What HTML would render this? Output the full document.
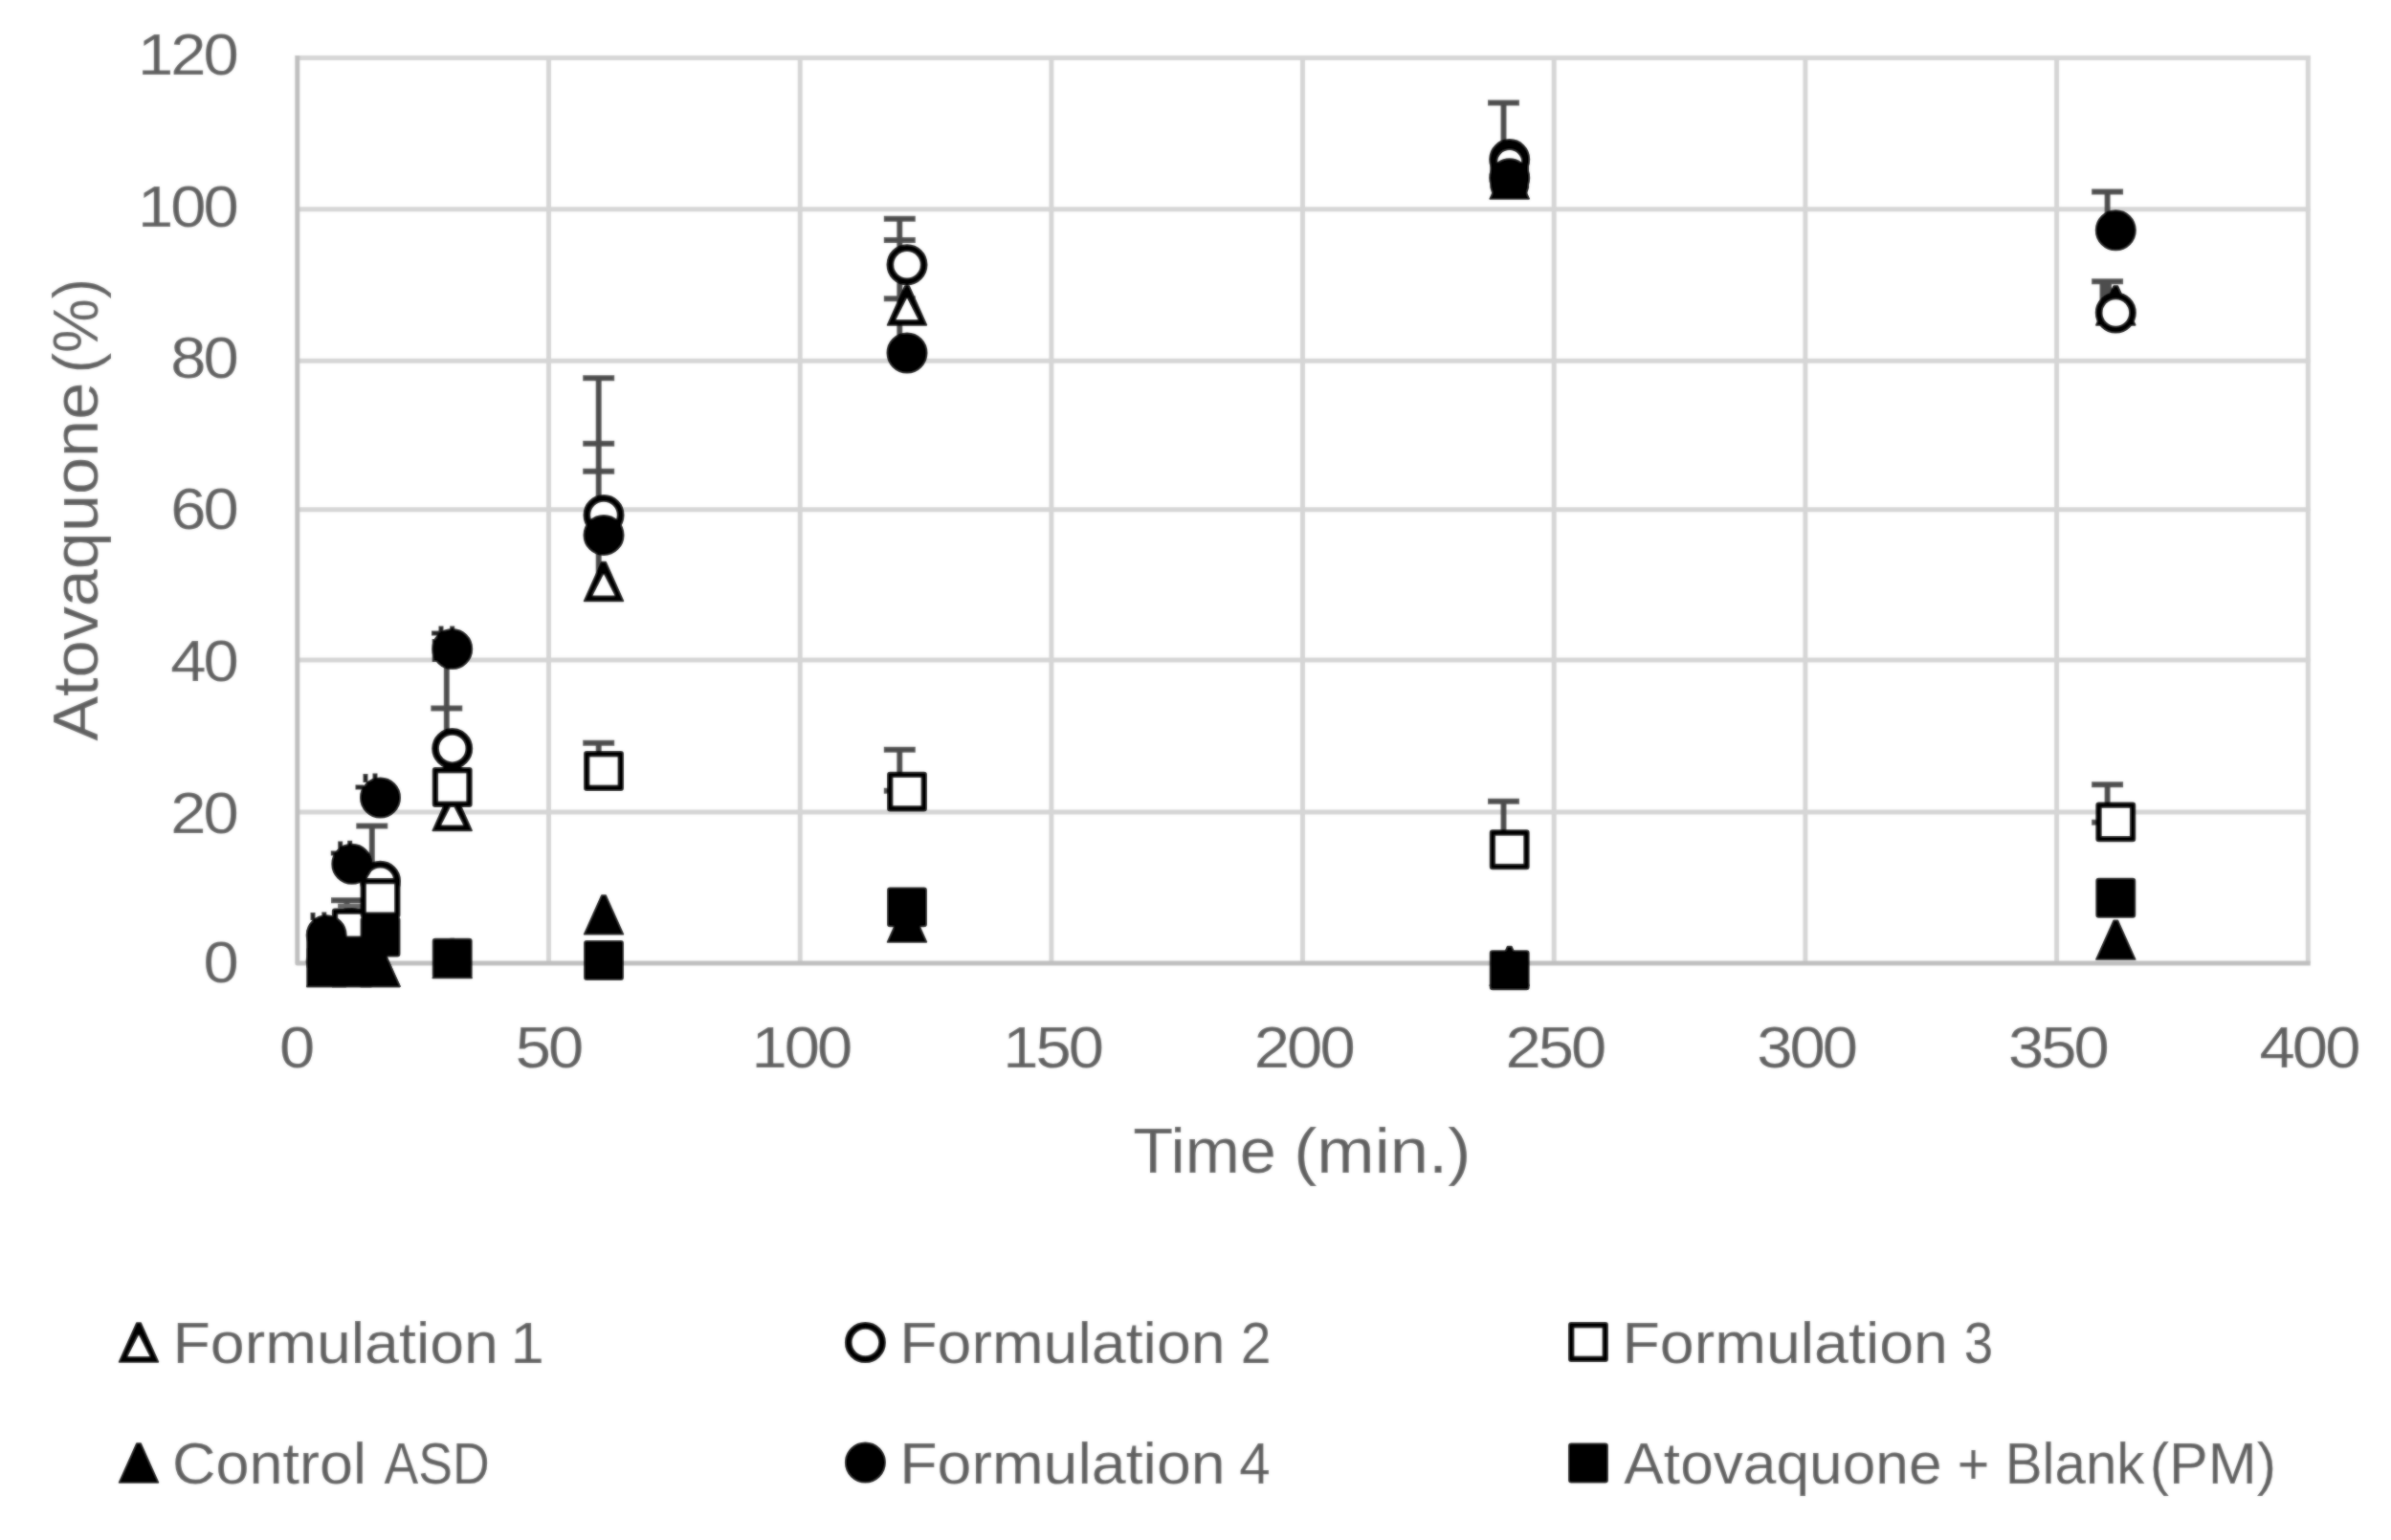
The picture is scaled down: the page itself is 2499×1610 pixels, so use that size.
<!DOCTYPE html>
<html lang="en"><head><meta charset="utf-8"><title>Atovaquone release chart</title>
<style>html,body{margin:0;padding:0;background:#fff}body{width:2499px;height:1610px;overflow:hidden}svg{display:block}text{font-family:"Liberation Sans",sans-serif;fill:#616161}</style>
</head><body>
<svg width="2499" height="1610" viewBox="0 0 2499 1610">
<defs><filter id="soft" x="0" y="0" width="2499" height="1610" filterUnits="userSpaceOnUse"><feGaussianBlur stdDeviation="1"/></filter></defs>
<g id="chart">
<rect width="2499" height="1610" fill="#fff"/>
<g stroke="#d6d6d6" stroke-width="5" fill="none">
<line x1="310.8" y1="849.0" x2="2414.8" y2="849.0"/>
<line x1="310.8" y1="689.9" x2="2414.8" y2="689.9"/>
<line x1="310.8" y1="532.7" x2="2414.8" y2="532.7"/>
<line x1="310.8" y1="377.3" x2="2414.8" y2="377.3"/>
<line x1="310.8" y1="218.8" x2="2414.8" y2="218.8"/>
<line x1="310.8" y1="60.6" x2="2414.8" y2="60.6"/>
<line x1="573.5" y1="58.1" x2="573.5" y2="1007.0"/>
<line x1="836.2" y1="58.1" x2="836.2" y2="1007.0"/>
<line x1="1098.9" y1="58.1" x2="1098.9" y2="1007.0"/>
<line x1="1361.5" y1="58.1" x2="1361.5" y2="1007.0"/>
<line x1="1624.2" y1="58.1" x2="1624.2" y2="1007.0"/>
<line x1="1886.9" y1="58.1" x2="1886.9" y2="1007.0"/>
<line x1="2149.6" y1="58.1" x2="2149.6" y2="1007.0"/>
<line x1="2412.3" y1="58.1" x2="2412.3" y2="1007.0"/>
</g>
<path d="M310.8 58.1 V1007.0 H2414.8" stroke="#bfbfbf" stroke-width="5" fill="none" stroke-linejoin="round"/>
<text transform="translate(212.53 1026.8) scale(1.08 1)" x="0.00" font-size="62">0</text>
<text transform="translate(178.23 870.5) scale(1.08 1)" x="0.00 31.76" font-size="62">20</text>
<text transform="translate(178.23 711.8) scale(1.08 1)" x="0.00 31.76" font-size="62">40</text>
<text transform="translate(178.23 553.4) scale(1.08 1)" x="0.00 31.76" font-size="62">60</text>
<text transform="translate(178.23 395.2) scale(1.08 1)" x="0.00 31.76" font-size="62">80</text>
<text transform="translate(143.93 236.5) scale(1.08 1)" x="0.00 31.76 63.52" font-size="62">100</text>
<text transform="translate(143.93 78.2) scale(1.08 1)" x="0.00 31.76 63.52" font-size="62">120</text>
<text transform="translate(292.03 1115.6) scale(1.08 1)" x="0.00" font-size="62">0</text>
<text transform="translate(538.72 1115.6) scale(1.08 1)" x="0.00 31.76" font-size="62">50</text>
<text transform="translate(785.45 1115.6) scale(1.08 1)" x="0.00 31.76 63.52" font-size="62">100</text>
<text transform="translate(1048.14 1115.6) scale(1.08 1)" x="0.00 31.76 63.52" font-size="62">150</text>
<text transform="translate(1310.83 1115.6) scale(1.08 1)" x="0.00 31.76 63.52" font-size="62">200</text>
<text transform="translate(1573.52 1115.6) scale(1.08 1)" x="0.00 31.76 63.52" font-size="62">250</text>
<text transform="translate(1836.20 1115.6) scale(1.08 1)" x="0.00 31.76 63.52" font-size="62">300</text>
<text transform="translate(2098.89 1115.6) scale(1.08 1)" x="0.00 31.76 63.52" font-size="62">350</text>
<text transform="translate(2361.58 1115.6) scale(1.08 1)" x="0.00 31.76 63.52" font-size="62">400</text>
<text transform="translate(1184.16 1226.2) scale(1.0230 1)" font-size="67">Time</text>
<text transform="translate(1352.17 1226.2) scale(1.0817 1)" font-size="67">(min.)</text>
<text transform="translate(102.2 774.78) rotate(-90) scale(1.0488 1)" font-size="67">Atovaquone</text>
<text transform="translate(102.2 390.30) rotate(-90) scale(0.9544 1)" font-size="67">(%)</text>
<g stroke="#4d4d4d" stroke-width="6" fill="none">
<line x1="625.7" y1="395.3" x2="625.7" y2="608.0"/><line x1="609.2" y1="395.3" x2="642.2" y2="395.3"/><line x1="609.2" y1="463.8" x2="642.2" y2="463.8"/><line x1="609.2" y1="492.7" x2="642.2" y2="492.7"/>
<line x1="625.7" y1="776.8" x2="625.7" y2="806.0"/><line x1="609.2" y1="776.8" x2="642.2" y2="776.8"/>
<line x1="466.8" y1="664.0" x2="466.8" y2="848.0"/><line x1="450.3" y1="740.5" x2="483.3" y2="740.5"/>
<line x1="388.8" y1="863.4" x2="388.8" y2="920.0"/><line x1="372.3" y1="863.4" x2="405.3" y2="863.4"/>
<line x1="362.5" y1="941.2" x2="362.5" y2="972.0"/><line x1="346.0" y1="941.2" x2="379.0" y2="941.2"/>
<line x1="353" y1="947" x2="378" y2="947" stroke="#6a6a6a" stroke-width="4.5"/>
<line x1="940.3" y1="228.7" x2="940.3" y2="369.0"/><line x1="923.8" y1="228.7" x2="956.8" y2="228.7"/><line x1="923.8" y1="251.0" x2="956.8" y2="251.0"/><line x1="923.8" y1="312.3" x2="956.8" y2="312.3"/>
<line x1="940.3" y1="783.8" x2="940.3" y2="827.0"/><line x1="923.8" y1="783.8" x2="956.8" y2="783.8"/><line x1="923.8" y1="826.7" x2="956.8" y2="826.7"/>
<line x1="1571.5" y1="107.5" x2="1571.5" y2="187.0"/><line x1="1555.0" y1="107.5" x2="1588.0" y2="107.5"/>
<line x1="1571.5" y1="837.8" x2="1571.5" y2="888.0"/><line x1="1555.0" y1="837.8" x2="1588.0" y2="837.8"/>
<line x1="2202.6" y1="200.6" x2="2202.6" y2="240.0"/><line x1="2186.1" y1="200.6" x2="2219.1" y2="200.6"/>
<line x1="2202.6" y1="294.2" x2="2202.6" y2="327.0"/><line x1="2186.1" y1="294.2" x2="2219.1" y2="294.2"/>
<rect x="2194.5" y="294" width="12.5" height="28" fill="#4d4d4d" stroke="none"/>
<line x1="2202.6" y1="820.3" x2="2202.6" y2="859.5"/><line x1="2186.1" y1="820.3" x2="2219.1" y2="820.3"/><line x1="2186.1" y1="859.7" x2="2219.1" y2="859.7"/>
</g>
<g stroke="#1c1c1c" stroke-width="5" fill="none">
<line x1="451.0" y1="662.0" x2="460.0" y2="662.0"/>
<line x1="461.0" y1="654.5" x2="461.0" y2="668.0"/>
<line x1="472.7" y1="654.5" x2="472.7" y2="664.0"/>
<line x1="454.2" y1="668.0" x2="454.2" y2="692.0"/>
<line x1="371.5" y1="823.0" x2="380.0" y2="823.0"/>
<line x1="382.0" y1="809.0" x2="382.0" y2="818.0"/>
<line x1="392.0" y1="808.5" x2="392.0" y2="816.0"/>
<line x1="345.8" y1="892.0" x2="353.0" y2="892.0"/>
<line x1="355.7" y1="879.5" x2="355.7" y2="890.0"/>
<line x1="365.7" y1="878.8" x2="365.7" y2="886.0"/>
<line x1="327.0" y1="954.0" x2="327.0" y2="962.0"/>
<line x1="338.8" y1="953.5" x2="338.8" y2="960.0"/>
</g>
<g fill="#000" stroke="#000" stroke-width="1.5" stroke-linejoin="round">
<g><path d="M339.0 990.6H343.4L361.7 1031.4H320.7Z"/><path d="M341.2 1003.2L352.6 1025.4L329.8 1025.4Z" fill="#fff" stroke="none"/><path d="M365.6 990.6H370.0L388.3 1031.4H347.3Z"/><path d="M367.8 1003.2L379.2 1025.4L356.4 1025.4Z" fill="#fff" stroke="none"/><path d="M395.3 990.6H399.7L418.0 1031.4H377.0Z"/><path d="M397.5 1003.2L408.9 1025.4L386.1 1025.4Z" fill="#fff" stroke="none"/><path d="M470.5 827.6H474.9L493.2 868.4H452.2Z"/><path d="M472.7 840.2L484.1 862.4L461.3 862.4Z" fill="#fff" stroke="none"/><path d="M628.8 587.6H633.2L651.5 628.4H610.5Z"/><path d="M631.0 600.2L642.4 622.4L619.6 622.4Z" fill="#fff" stroke="none"/><path d="M945.8 299.1H950.2L968.5 339.9H927.5Z"/><path d="M948.0 311.7L959.4 333.9L936.6 333.9Z" fill="#fff" stroke="none"/><path d="M1575.5 167.1H1579.9L1598.2 207.9H1557.2Z"/><path d="M1577.7 179.7L1589.1 201.9L1566.3 201.9Z" fill="#fff" stroke="none"/><path d="M2209.1 299.1H2213.5L2231.8 339.9H2190.8Z"/><path d="M2211.3 311.7L2222.7 333.9L2199.9 333.9Z" fill="#fff" stroke="none"/></g>
<g><circle cx="341.2" cy="1005.0" r="20.75"/><circle cx="341.2" cy="1005.0" r="13.8" fill="#fff" stroke="none"/><circle cx="367.8" cy="970.5" r="20.75"/><circle cx="367.8" cy="970.5" r="13.8" fill="#fff" stroke="none"/><circle cx="397.5" cy="921.3" r="20.75"/><circle cx="397.5" cy="921.3" r="13.8" fill="#fff" stroke="none"/><circle cx="472.7" cy="782.6" r="20.75"/><circle cx="472.7" cy="782.6" r="13.8" fill="#fff" stroke="none"/><circle cx="631.0" cy="538.5" r="20.75"/><circle cx="631.0" cy="538.5" r="13.8" fill="#fff" stroke="none"/><circle cx="948.0" cy="276.8" r="20.75"/><circle cx="948.0" cy="276.8" r="13.8" fill="#fff" stroke="none"/><circle cx="1577.7" cy="166.6" r="20.75"/><circle cx="1577.7" cy="166.6" r="13.8" fill="#fff" stroke="none"/><circle cx="2211.3" cy="327.0" r="20.75"/><circle cx="2211.3" cy="327.0" r="13.8" fill="#fff" stroke="none"/></g>
<g><rect x="321.0" y="971.8" width="40.4" height="40.4" rx="2.5"/><rect x="326.6" y="977.4" width="29.2" height="29.2" fill="#fff" stroke="none"/><rect x="347.6" y="950.3" width="40.4" height="40.4" rx="2.5"/><rect x="353.2" y="955.9" width="29.2" height="29.2" fill="#fff" stroke="none"/><rect x="377.3" y="918.7" width="40.4" height="40.4" rx="2.5"/><rect x="382.9" y="924.3" width="29.2" height="29.2" fill="#fff" stroke="none"/><rect x="452.5" y="802.8" width="40.4" height="40.4" rx="2.5"/><rect x="458.1" y="808.4" width="29.2" height="29.2" fill="#fff" stroke="none"/><rect x="610.8" y="785.8" width="40.4" height="40.4" rx="2.5"/><rect x="616.4" y="791.4" width="29.2" height="29.2" fill="#fff" stroke="none"/><rect x="927.8" y="807.4" width="40.4" height="40.4" rx="2.5"/><rect x="933.4" y="813.0" width="29.2" height="29.2" fill="#fff" stroke="none"/><rect x="1557.5" y="868.1" width="40.4" height="40.4" rx="2.5"/><rect x="1563.1" y="873.7" width="29.2" height="29.2" fill="#fff" stroke="none"/><rect x="2191.1" y="839.2" width="40.4" height="40.4" rx="2.5"/><rect x="2196.7" y="844.8" width="29.2" height="29.2" fill="#fff" stroke="none"/></g>
<g><path d="M339.0 990.6H343.4L361.7 1031.4H320.7Z"/><path d="M365.6 990.6H370.0L388.3 1031.4H347.3Z"/><path d="M395.3 990.6H399.7L418.0 1031.4H377.0Z"/><path d="M470.5 981.6H474.9L493.2 1022.4H452.2Z"/><path d="M628.8 936.0H633.2L651.5 976.8H610.5Z"/><path d="M945.8 944.1H950.2L968.5 984.9H927.5Z"/><path d="M1575.5 989.6H1579.9L1598.2 1030.4H1557.2Z"/><path d="M2209.1 962.2H2213.5L2231.8 1003.0H2190.8Z"/></g>
<g><circle cx="341.2" cy="977.7" r="20.75"/><circle cx="367.8" cy="903.2" r="20.75"/><circle cx="397.5" cy="834.0" r="20.75"/><circle cx="472.7" cy="678.5" r="20.75"/><circle cx="631.0" cy="559.4" r="20.75"/><circle cx="948.0" cy="369.0" r="20.75"/><circle cx="1577.7" cy="186.0" r="20.75"/><circle cx="2211.3" cy="240.7" r="20.75"/></g>
<g><rect x="321.0" y="990.8" width="40.4" height="40.4" rx="2.5"/><rect x="347.6" y="979.3" width="40.4" height="40.4" rx="2.5"/><rect x="377.3" y="959.3" width="40.4" height="40.4" rx="2.5"/><rect x="452.5" y="981.6" width="40.4" height="40.4" rx="2.5"/><rect x="610.8" y="983.8" width="40.4" height="40.4" rx="2.5"/><rect x="927.8" y="928.2" width="40.4" height="40.4" rx="2.5"/><rect x="1557.5" y="994.1" width="40.4" height="40.4" rx="2.5"/><rect x="2191.1" y="918.6" width="40.4" height="40.4" rx="2.5"/></g>
<rect x="384" y="992" width="10" height="16" stroke="none"/>
<circle cx="1577.7" cy="166.6" r="15.5" stroke="none"/><path d="M1557.3 166.5H1598.1V196L1596 203H1559.4L1557.3 196Z" stroke="none"/>
<path d="M1565.2 169.4A12.5 12.4 0 0 1 1590.2 169.4A20.75 20.75 0 0 0 1565.2 169.4Z" fill="#fff" stroke="none"/>
<path d="M142.8 1383.1H147.2L165.5 1423.9H124.5Z"/><path d="M145.0 1395.7L156.4 1417.9L133.6 1417.9Z" fill="#fff" stroke="none"/>
<circle cx="904.4" cy="1403.5" r="20.75"/><circle cx="904.4" cy="1403.5" r="13.8" fill="#fff" stroke="none"/>
<rect x="1639.8" y="1382.8" width="40.4" height="40.4" rx="2.5"/><rect x="1645.4" y="1388.4" width="29.2" height="29.2" fill="#fff" stroke="none"/>
<path d="M142.8 1509.1H147.2L165.5 1549.9H124.5Z"/>
<circle cx="904.4" cy="1529.0" r="20.75"/>
<rect x="1639.8" y="1509.3" width="40.4" height="40.4" rx="2.5"/>
</g>
<text transform="translate(180.48 1425.2) scale(1.0488 1)" font-size="61.5">Formulation</text>
<text transform="translate(533.53 1425.2) scale(1.0339 1)" font-size="61.5">1</text>
<text transform="translate(940.18 1425.2) scale(1.0488 1)" font-size="61.5">Formulation</text>
<text transform="translate(1296.64 1425.2) scale(0.9292 1)" font-size="61.5">2</text>
<text transform="translate(940.18 1550.7) scale(1.0488 1)" font-size="61.5">Formulation</text>
<text transform="translate(1295.19 1550.7) scale(0.9499 1)" font-size="61.5">4</text>
<text transform="translate(1695.48 1425.2) scale(1.0488 1)" font-size="61.5">Formulation</text>
<text transform="translate(2052.75 1425.2) scale(0.8900 1)" font-size="61.5">3</text>
<text transform="translate(180.05 1550.7) scale(1.0235 1)" font-size="61.5">Control</text>
<text transform="translate(401.47 1550.7) scale(0.8723 1)" font-size="61.5">ASD</text>
<text transform="translate(1697.34 1550.7) scale(1.0123 1)" font-size="61.5">Atovaquone</text>
<text transform="translate(2045.77 1550.7) scale(0.9339 1)" font-size="61.5">+</text>
<text transform="translate(2095.69 1550.7) scale(0.9474 1)" font-size="61.5">Blank</text>
<text transform="translate(2246.68 1550.7) scale(0.9951 1)" font-size="61.5">(PM)</text>
</g>
<use href="#chart" filter="url(#soft)" opacity="0.55"/>
</svg></body></html>
